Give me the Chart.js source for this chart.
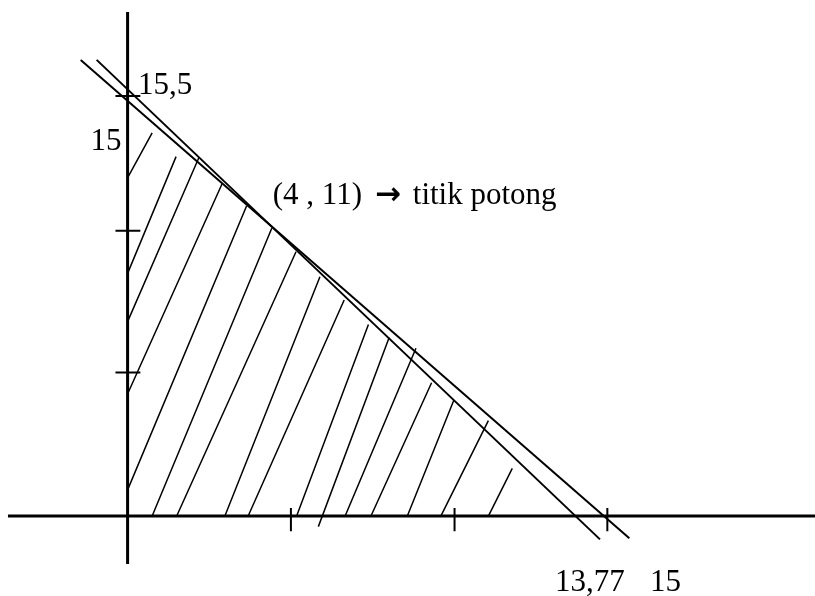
<!DOCTYPE html>
<html>
<head>
<meta charset="utf-8">
<script src="https://cdn.jsdelivr.net/npm/chart.js"></script>
<style>
  html, body { margin: 0; padding: 0; background: #fff; }
  #wrap { width: 815px; height: 596px; }
</style>
</head>
<body>
<div id="wrap"><canvas id="chart"></canvas></div>
<script>
// sketch units (x axis up to ~15, y axis up to ~15.5)
const lineAX = [-1.47, 15.73]
const lineAY = [16.83, -0.82]
const lineBX = [-0.97, 14.81]
const lineBY = [16.83, -0.86]

// hatching strokes: upper end -> lower end
const hatchTopX = [0.77, 1.52, 2.24, 2.97, 3.73, 4.52, 5.28, 6.03, 6.79, 7.55, 8.20, 9.04, 9.53, 10.23, 11.31, 12.06]
const hatchTopY = [14.14, 13.26, 13.24, 12.28, 11.44, 10.62, 9.75, 8.83, 7.97, 7.07, 6.59, 6.19, 4.92, 4.28, 3.52, 1.76]
const hatchEndX = [0.02, 0.02, 0.02, 0.02, 0.02, 0.77, 1.54, 3.05, 3.78, 5.30, 5.98, 6.82, 7.63, 8.77, 9.82, 11.31]
const hatchEndY = [12.52, 9.01, 7.23, 4.56, 1.02, 0, 0, 0, 0, 0, -0.39, 0, 0, 0, 0, 0]

const xAxisRange = [-3.75, 21.6]
const yAxisRange = [-1.77, 18.6]
const xTicks = [5.12, 10.25, 15.04]
const yTicks = [5.3, 10.53, 15.5]

const labelTexts = ['15,5', '15', '(4 , 11)', '\u2192', 'titik potong', '13,77', '15']
const labelX = [0.33, -1.16, 4.55, 7.76, 8.94, 13.40, 16.38]
const labelY = [15.57, 13.51, 11.51, 11.51, 11.51, -2.76, -2.76]

function segments(x0, y0, x1, y1) {
  const pts = []
  x0.forEach((x, i) => {
    pts.push({x: x, y: y0[i]}, {x: x1[i], y: y1[i]}, {x: x1[i], y: null})
  })
  return pts
}

const tickX0 = [], tickY0 = [], tickX1 = [], tickY1 = []
xTicks.forEach(v => { tickX0.push(v); tickY0.push(0.3); tickX1.push(v); tickY1.push(-0.56) })
yTicks.forEach(v => { tickX0.push(-0.38); tickY0.push(v); tickX1.push(0.4); tickY1.push(v) })

const sketchText = {
  id: 'sketchText',
  afterDatasetsDraw(chart) {
    const {ctx, scales: {x, y}} = chart
    ctx.save()
    ctx.fillStyle = '#000'
    ctx.textBaseline = 'alphabetic'
    labelTexts.forEach((t, i) => {
      ctx.font = t === '\u2192' ? 'bold 31px "DejaVu Sans"' : '31px "Liberation Serif"'
      ctx.fillText(t, x.getPixelForValue(labelX[i]), y.getPixelForValue(labelY[i]))
    })
    ctx.restore()
  }
}

const line = (data, width) => ({
  data: data,
  showLine: true,
  borderColor: '#000',
  borderWidth: width,
  pointRadius: 0,
  spanGaps: false
})

new Chart(document.getElementById('chart'), {
  type: 'scatter',
  data: {
    datasets: [
      line(segments(hatchTopX, hatchTopY, hatchEndX, hatchEndY), 1.5),
      line(segments([xAxisRange[0], 0], [0, yAxisRange[1]], [xAxisRange[1], 0], [0, yAxisRange[0]]), 3),
      line(segments(tickX0, tickY0, tickX1, tickY1), 2),
      line(lineAX.map((v, i) => ({x: v, y: lineAY[i]})), 2),
      line(lineBX.map((v, i) => ({x: v, y: lineBY[i]})), 2)
    ]
  },
  options: {
    responsive: true,
    maintainAspectRatio: false,
    animation: false,
    layout: { padding: 0 },
    plugins: { legend: { display: false }, tooltip: { enabled: false } },
    scales: {
      x: { type: 'linear', display: false, min: -4, max: 21.55 },
      y: { type: 'linear', display: false, min: -2.95, max: 19.04 }
    }
  },
  plugins: [sketchText]
})
</script>
</body>
</html>
